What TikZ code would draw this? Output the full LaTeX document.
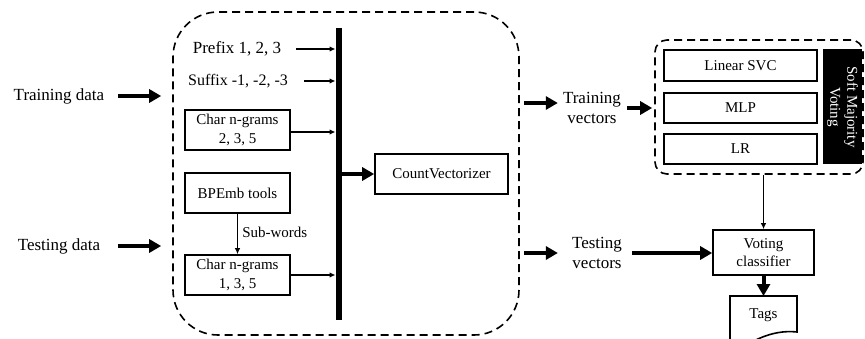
\documentclass[tikz,border=0pt]{standalone}
\usepackage{fontspec}
\setmainfont{Liberation Serif}
\usetikzlibrary{arrows.meta}
\begin{document}
\begin{tikzpicture}[x=1pt,y=-1pt,
  biglabel/.style={font=\fontsize{17}{20}\selectfont, align=center, inner sep=0pt},
  midlabel/.style={font=\fontsize{16}{19}\selectfont, align=center, inner sep=0pt},
  box/.style={draw, line width=1.6pt, font=\fontsize{15}{18.5}\selectfont, align=center, inner sep=0pt},
  dashbox/.style={draw, line width=1.6pt, dash pattern=on 8pt off 5pt},
  tarrow/.style={line width=1.5pt, -{Latex[length=6pt,width=5.5pt]}},
  barrow/.style={line width=4pt, -{Triangle[length=12pt,width=13pt]}},
]
\useasboundingbox (0,0) rectangle (865,339);

% left labels
\node[biglabel] (train) at (59,96) {Training data};
\node[biglabel] (test) at (59,246) {Testing data};

% big dashed region
\node[dashbox, rounded corners=45pt, minimum width=346pt, minimum height=323pt] (region) at (346,173.5) {};

\node[biglabel] (prefix) at (237,49) {Prefix 1, 2, 3};
\node[midlabel] (suffix) at (238,81) {Suffix -1, -2, -3};
\node[box, minimum width=105pt, minimum height=40pt] (cng1) at (237.5,130) {Char n-grams\\2, 3, 5};
\node[box, minimum width=105pt, minimum height=40pt] (bpe) at (237.5,193) {BPEmb tools};
\node[box, minimum width=105pt, minimum height=40pt] (cng2) at (237.5,275) {Char n-grams\\1, 3, 5};

% bar
\coordinate (bartop) at (338.5,28);
\coordinate (barbot) at (338.5,320);
\coordinate (barL) at (335.5,174);
\coordinate (barR) at (341.5,174);
\draw[line width=6pt] (bartop) -- (barbot);

\node[box, minimum width=133pt, minimum height=40pt] (cv) at (441.5,174) {CountVectorizer};

% vectors
\node[biglabel] (trv) at (592,108) {Training\\vectors};
\node[biglabel] (tev) at (597,253) {Testing\\vectors};

% ensemble
\node[dashbox, rounded corners=12pt, minimum width=208pt, minimum height=134pt] (ens) at (759,107) {};
\node[box, minimum width=153pt, minimum height=31pt] (svc) at (740.5,65.5) {Linear SVC};
\node[box, minimum width=153pt, minimum height=30pt] (mlp) at (740.5,108) {MLP};
\node[box, minimum width=153pt, minimum height=30pt] (lr) at (740.5,149) {LR};
\node[fill=black, minimum width=39pt, minimum height=115pt, inner sep=0pt] (soft) at (842.5,107) {};
\node[rotate=-90, text=white, font=\fontsize{15}{17}\selectfont, align=center, inner sep=0pt] (softtxt) at (soft.center) {Soft Majority\\Voting};

\node[box, minimum width=101pt, minimum height=45pt] (vc) at (763.5,252.5) {Voting\\classifier};

% tags document
\node[font=\fontsize{15}{18}\selectfont, inner sep=0pt] (tags) at (763.5,315) {Tags};
\coordinate (tagTL) at (730,296);
\coordinate (tagTR) at (797,296);
\coordinate (tagBR) at (797,332);
\coordinate (tagBL) at (730,350);
\draw[line width=1.6pt] (tagBL) -- (tagTL) -- (tagTR) -- (tagBR) .. controls (778,330) and (760,336) .. (742,348);

% arrows
\draw[barrow, shorten >=11pt] ([xshift=14pt]train.east) -- (train.east -| region.west);
\draw[barrow, shorten >=11pt] ([xshift=18pt]test.east) -- (test.east -| region.west);

\draw[tarrow] ([xshift=15pt]prefix.east) -- (prefix.east -| barL);
\draw[tarrow] ([xshift=16pt]suffix.east) -- (suffix.east -| barL);
\draw[tarrow] ([yshift=-2pt]cng1.east) -- ([yshift=-2pt]cng1.east -| barL);
\draw[tarrow] (cng2.east) -- (cng2.east -| barL);
\draw[tarrow] (bpe.south) -- node[right=4pt, font=\fontsize{15}{18}\selectfont, inner sep=0pt, pos=0.45] {Sub-words} (cng2.north);

\draw[barrow] (barR) -- (cv.west);

\draw[barrow] ([xshift=4pt, yshift=5pt]region.east |- trv.west) -- ([xshift=-5pt,yshift=5pt]trv.west);
\draw[barrow] ([xshift=4pt]region.east |- tev.west) -- ([xshift=-14pt]tev.west);
\draw[barrow] ([xshift=6pt]trv.east) -- ([xshift=-2pt]trv.east -| ens.west);
\draw[barrow] ([xshift=10pt]tev.east) -- (tev.east -| vc.west);
\draw[tarrow] (vc.north |- ens.south) -- (vc.north);
\draw[barrow] (vc.south) -- (tagTL -| vc.south);
\end{tikzpicture}
\end{document}
